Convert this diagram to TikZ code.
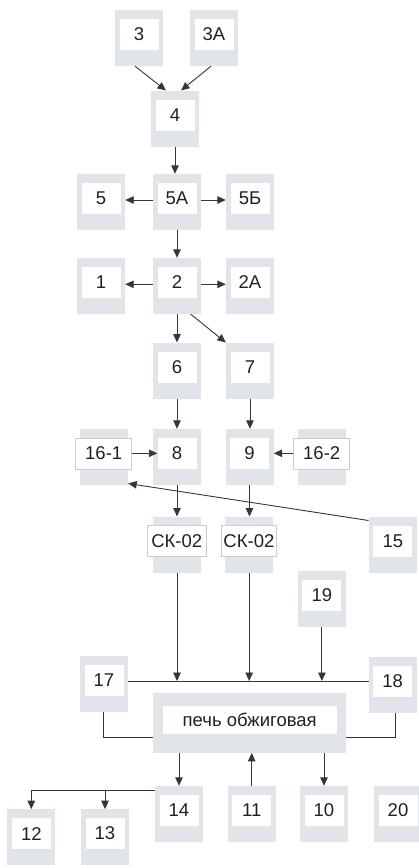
\documentclass[tikz,border=0pt]{standalone}
\usepackage{fontspec}
\setmainfont{Liberation Sans}
\usetikzlibrary{arrows.meta,calc}
\definecolor{boxgray}{RGB}{225,229,233}
\definecolor{edgegray}{RGB}{200,205,210}
\definecolor{inkc}{RGB}{35,31,32}
\newcommand{\mybox}[5][39]{%
  \node[graybox] (#2) at (#3,#4) {};
  \node[whitebox, minimum width=#1pt] (#2-t) at (#3,{#4-3.7}) {#5};
}
\newcommand{\myboxb}[5][56]{%
  \node[graybox] (#2) at (#3,#4) {};
  \node[whitebox, draw=edgegray, line width=0.6pt, minimum width=#1pt] (#2-t) at ({#3-0.3},{#4-3.7}) {#5};
}
\tikzset{
  graybox/.style={rectangle, fill=boxgray, draw=none, minimum width=48pt, minimum height=56pt, inner sep=0pt},
  whitebox/.style={rectangle, fill=white, draw=none, minimum height=31pt, inner sep=0pt, text=inkc,
    font=\fontsize{18.5}{22}\selectfont},
  conn/.style={draw=inkc!90, line width=0.9pt},
  arr/.style={conn, -{Triangle[length=8.5pt,width=7.5pt]}}
}
\begin{document}
\begin{tikzpicture}[x=1pt,y=-1pt]
\useasboundingbox (0,0) rectangle (419,868);
\mybox{n3}{139}{38}{3}
\mybox{n3a}{214}{38}{3А}
\mybox{n4}{175}{118.7}{4}
\mybox{n5}{101}{202}{5}
\mybox{n5a}{177}{202}{5А}
\mybox{n5b}{250}{202}{5Б}
\mybox{n1}{101}{286}{1}
\mybox{n2}{177}{286}{2}
\mybox{n2a}{250}{286}{2А}
\mybox{n6}{177}{370.7}{6}
\mybox{n7}{250}{370.7}{7}
\mybox{n8}{177}{457}{8}
\mybox{n9}{249.5}{457}{9}
\myboxb{n161}{104}{457}{16-1}
\myboxb{n162}{322}{457}{16-2}
\mybox{n15}{392.8}{544.7}{15}
\myboxb[58.5]{ck1}{177}{544.7}{СК-02}
\myboxb[55]{ck2}{249.2}{544.7}{СК-02}
\mybox{n19}{321.9}{599}{19}
\mybox{n17}{104}{684}{17}
\mybox{n18}{392.7}{684.7}{18}
\node[graybox, minimum width=193pt, minimum height=59.4pt] (kiln) at (249.2,723) {};
\node[whitebox, minimum width=174pt, minimum height=28.3pt] (kiln-t) at (249.7,719.9) {печь обжиговая};
\mybox{n14}{179}{814}{14}
\mybox{n11}{251.7}{814}{11}
\mybox{n10}{324}{814}{10}
\mybox{n20}{398}{814}{20}
\mybox{n12}{31.3}{837.3}{12}
\mybox{n13}{105}{837.3}{13}

% top
\draw[arr] ([xshift=-4pt]n3.south) -- ([xshift=-9pt]n4.north);
\draw[arr] ([xshift=-3pt]n3a.south) -- ([xshift=6pt]n4.north);
\draw[arr] (n4.south) -- (n4.south |- n5a.north);
\draw[arr] ([yshift=2pt]n5a.west) -- ([yshift=2pt]n5.east);
\draw[arr] ([yshift=2pt]n5a.east) -- ([yshift=2pt]n5b.west);
\draw[arr] (n5a.south) -- (n2.north);
\draw[arr] ([yshift=1.7pt]n2.west) -- ([yshift=1.7pt]n1.east);
\draw[arr] ([yshift=1.7pt]n2.east) -- ([yshift=1.7pt]n2a.west);
\draw[arr] (n2.south) -- (n6.north);
\draw[arr] ([xshift=13.7pt]n2.south) -- (n7.north west);
\draw[arr] (n6.south) -- (n8.north);
\draw[arr] (n7.south) -- (n7.south |- n9.north);
\draw[arr] (n161-t.east) -- (n161-t.east -| n8-t.west);
\draw[arr] (n162-t.west) -- (n162-t.west -| n9.east);
\draw[arr] (n8.south) -- (ck1.north);
\draw[arr] (n9.south) -- (n9.south |- ck2.north);
\draw[arr] ([yshift=-4pt]n15.north west) -- ([yshift=1.7pt]n161.south east);

% bus
\coordinate (busL) at ([yshift=3pt]n17.east);
\draw[conn] (busL) -- (busL -| n18.west);
\draw[arr] (ck1.south) -- (ck1.south |- busL);
\draw[arr] (ck2.south) -- (ck2.south |- busL);
\draw[arr] (n19.south) -- (n19.south |- busL);
\coordinate (kL) at ([yshift=-14.7pt]kiln.west);
\coordinate (kR) at ([yshift=-14.7pt]kiln.east);
\draw[conn] ([xshift=-0.7pt]n17.south) |- (kL);
\draw[conn] ([xshift=2.3pt]n18.south) |- (kR);

% bottom
\draw[arr] (kiln.south -| n14.north) -- (n14.north);
\draw[arr] (n11.north) -- (n11.north |- kiln.south);
\draw[arr] (kiln.south -| n10.north) -- (n10.north);
\coordinate (b14) at ([yshift=-4.7pt]n14.north west);
\draw[arr] (b14) -| (n12.north);
\draw[arr] (b14 -| n13.north) -- (n13.north);
\end{tikzpicture}
\end{document}
